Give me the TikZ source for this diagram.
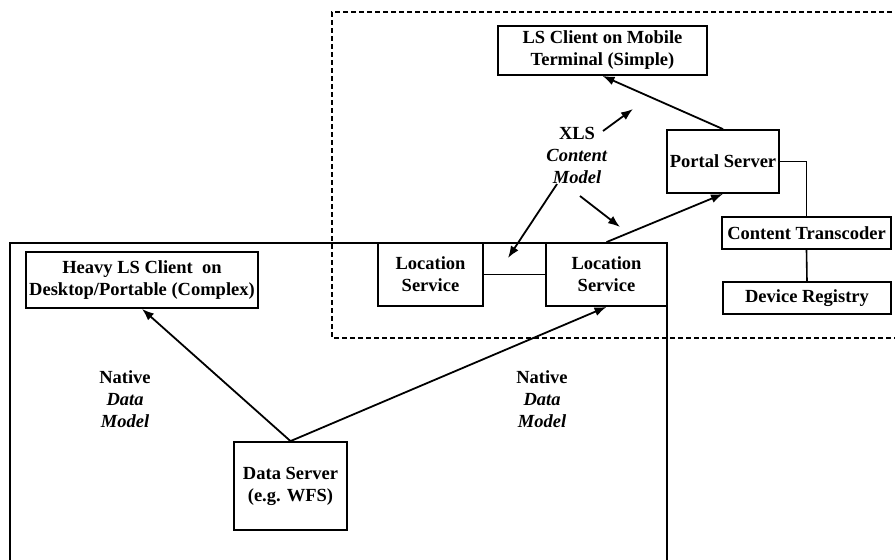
\documentclass[tikz,border=0pt]{standalone}
\usepackage{fontspec}
\setmainfont{Liberation Serif}
\usetikzlibrary{arrows.meta}
\tikzset{
  box/.style={draw,line width=1.8pt,inner sep=0pt,align=center,
    font=\fontsize{18.5}{22}\selectfont\bfseries},
  lbl/.style={align=center,inner sep=0pt,font=\fontsize{18.5}{22}\selectfont\bfseries},
  flow/.style={line width=1.8pt,-{Latex[length=12pt,width=9pt]}},
  link/.style={line width=1.6pt}
}
\begin{document}
\begin{tikzpicture}[x=1pt,y=-1pt]
  \useasboundingbox (0,0) rectangle (895,560);
  % the two domains
  \draw[line width=1.6pt,dash pattern=on 5pt off 3pt] (900,12) -- (332,12) -- (332,338) -- (900,338);
  \draw[line width=1.8pt] (10,560) -- (10,243) -- (667,243) -- (667,560);
  % boxes
  \node[box,minimum width=209pt,minimum height=49pt] (mobile) at (602.5,50.5) {LS Client on Mobile\\Terminal (Simple)};
  \node[box,minimum width=112pt,minimum height=63pt] (portal) at (723,161.5) {Portal Server};
  \node[box,minimum width=169pt,minimum height=32pt] (transc) at (806.5,233) {Content Transcoder};
  \node[box,minimum width=168pt,minimum height=32pt] (devreg) at (807,298) {Device Registry};
  \node[box,minimum width=105pt,minimum height=63pt] (locl) at (430.5,274.5) {Location\\Service};
  \node[box,minimum width=121pt,minimum height=63pt] (locr) at (606.5,274.5) {Location\\Service};
  \node[box,minimum width=232pt,minimum height=56pt] (heavy) at (142,280) {Heavy LS Client\ \ on\\Desktop/Portable (Complex)};
  \node[box,minimum width=113pt,minimum height=88pt] (datasrv) at (290.5,486) {Data Server\\(e.g. WFS)};
  % labels
  \node[lbl] (xls) at (577,155) {XLS\\\textit{Content}\\\textit{Model}};
  \node[lbl] (natl) at (125,399) {Native\\\textit{Data}\\\textit{Model}};
  \node[lbl] (natr) at (542,399) {Native\\\textit{Data}\\\textit{Model}};
  \coordinate (xlsa) at (603,131);
  \coordinate (xlsb) at (633,109);
  \coordinate (mdla) at (557,184);
  \coordinate (mdlb) at (508,258);
  \coordinate (mdlc) at (580,196);
  \coordinate (mdld) at (620,227);
  % connectors
  \draw[flow] (portal.north) -- (mobile.south);
  \draw[flow] (locr.north) -- (portal.south);
  \draw[link] (portal.east) -| (transc.north);
  \draw[link] (transc.south) -- (devreg.north);
  \draw[link] (locl.east) -- (locr.west);
  \draw[flow] (datasrv.north) -- (heavy.south);
  \draw[flow] (datasrv.north) -- (locr.south);
  \draw[flow] (xlsa) -- (xlsb);
  \draw[flow] (mdla) -- (mdlb);
  \draw[flow] (mdlc) -- (mdld);
\end{tikzpicture}
\end{document}
